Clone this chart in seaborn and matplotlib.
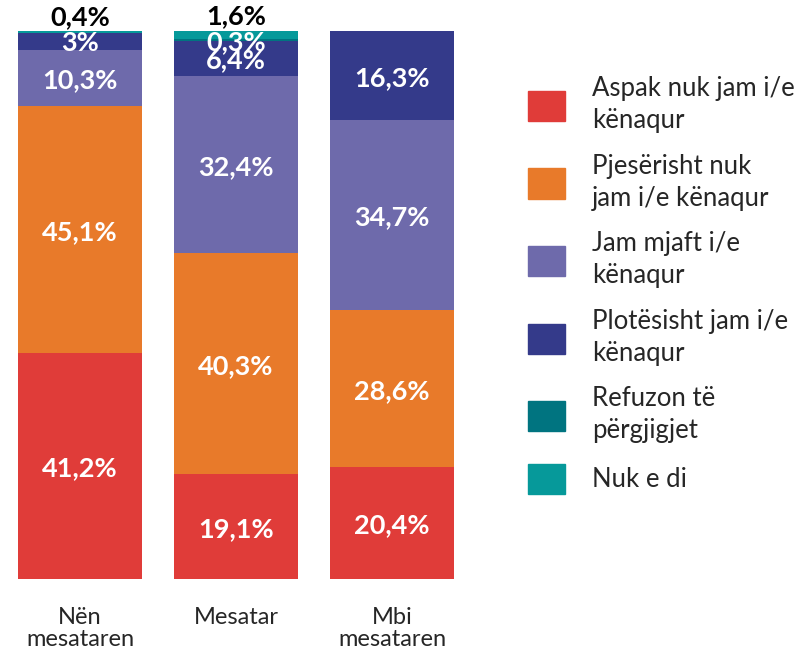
import matplotlib
matplotlib.use('Agg')
import matplotlib.pyplot as plt
import matplotlib.patches as mpatches
import numpy as np
import pandas as pd
import seaborn as sns

# Data
groups = ['Nën\nmesataren', 'Mesatar', 'Mbi\nmesataren']
categories = ['Aspak nuk jam i/e\nkënaqur',
              'Pjesërisht nuk\njam i/e kënaqur',
              'Jam mjaft i/e\nkënaqur',
              'Plotësisht jam i/e\nkënaqur',
              'Refuzon të\npërgjigjet',
              'Nuk e di']
aspak = [41.2, 19.1, 20.4]
pjeserisht = [45.1, 40.3, 28.6]
mjaft = [10.3, 32.4, 34.7]
plotesisht = [3.0, 6.4, 16.3]
refuzon = [0.0, 0.3, 0.0]
nuk_e_di = [0.4, 1.6, 0.0]
colors = ['#E03C39', '#E87A2A', '#6E6AAB', '#343A8A', '#007480', '#06999A']


def fmt(v):
    s = ('%.1f' % v).replace('.', ',')
    if s.endswith(',0'):
        s = s[:-2]
    return s + '%'


def main():
    sns.set_theme(style='white')
    plt.rcParams['font.family'] = ['Lato', 'DejaVu Sans']

    values = np.array([aspak, pjeserisht, mjaft, plotesisht, refuzon, nuk_e_di])
    cum = values.cumsum(axis=0)

    fig = plt.figure(figsize=(8.01, 6.56), dpi=100)
    ax = fig.add_axes([2 / 801, 77 / 656, 468 / 801, 548 / 656])

    # stacked bars: draw cumulative totals from the top layer down
    for i in range(len(categories) - 1, -1, -1):
        df = pd.DataFrame({'group': groups, 'value': cum[i]})
        sns.barplot(data=df, x='group', y='value', color=colors[i],
                    saturation=1, width=0.8, ax=ax, edgecolor='none')

    # segment labels
    for i in range(len(categories)):
        for j in range(len(groups)):
            v = values[i, j]
            if v <= 0:
                continue
            if i == len(categories) - 1:
                ax.text(j, cum[i, j] + 0.4, fmt(v), ha='center', va='bottom',
                        color='black', fontsize=19.5, fontweight='bold')
            else:
                y = cum[i, j] - v / 2
                ax.text(j, y, fmt(v), ha='center', va='center_baseline',
                        color='white', fontsize=19.5, fontweight='bold')

    ax.set_ylim(0, 100)
    ax.set_xlim(-0.5, 2.5)
    ax.set_xlabel('')
    ax.set_ylabel('')
    ax.set_yticks([])
    ax.tick_params(axis='x', length=0, pad=20, labelsize=17)
    for lab in ax.get_xticklabels():
        lab.set_linespacing(1.1)
    for s in ax.spines.values():
        s.set_visible(False)

    handles = [mpatches.Patch(color=c, label=l) for c, l in zip(colors, categories)]
    leg = fig.legend(handles=handles, loc='upper left',
                     bbox_to_anchor=(528 / 801, 1 - 76 / 656),
                     frameon=False, fontsize=18.5, handlelength=1.43, handleheight=1.43,
                     handletextpad=1.05, labelspacing=0.8, borderpad=0, borderaxespad=0)
    for t in leg.get_texts():
        t.set_linespacing(1.35)

    fig.savefig('out.png', dpi=100)


if __name__ == '__main__':
    main()
